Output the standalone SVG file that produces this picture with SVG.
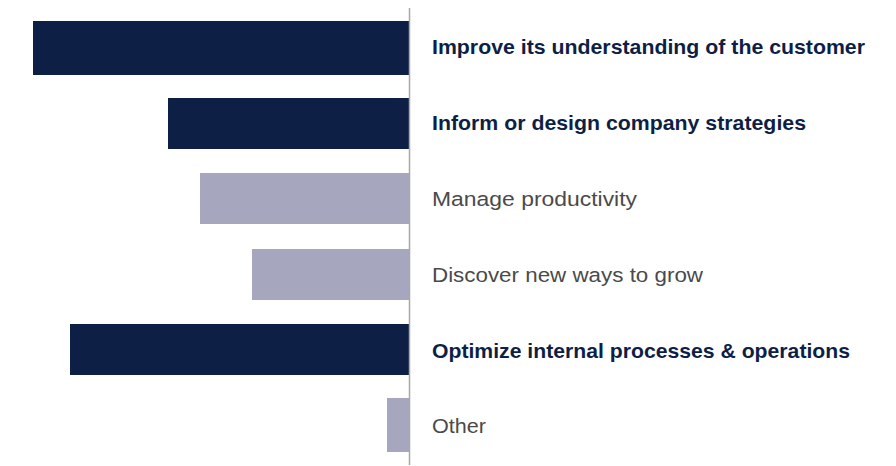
<svg xmlns="http://www.w3.org/2000/svg" width="896" height="466" viewBox="0 0 896 466">
<style>
.dark{fill:#0e1f45}
.light{fill:#a6a7bf}
.lb{font-family:"Liberation Sans",Arial,sans-serif;font-size:20.5px;font-weight:bold;fill:#0e1f45}
.lr{font-family:"Liberation Sans",Arial,sans-serif;font-size:20.5px;fill:#4a4a4a}
</style>
<rect width="896" height="466" fill="#ffffff"/>
<g id="bar1"><rect class="dark" x="33" y="21" width="377" height="54"/><text class="lb" x="432" y="54" textLength="433" lengthAdjust="spacingAndGlyphs">Improve its understanding of the customer</text></g>
<g id="bar2"><rect class="dark" x="168" y="98" width="242" height="51"/><text class="lb" x="432" y="130" textLength="374" lengthAdjust="spacingAndGlyphs">Inform or design company strategies</text></g>
<g id="bar3"><rect class="light" x="200" y="173" width="210" height="51"/><text class="lr" x="432" y="206" textLength="205" lengthAdjust="spacingAndGlyphs">Manage productivity</text></g>
<g id="bar4"><rect class="light" x="252" y="249" width="158" height="51"/><text class="lr" x="432" y="282" textLength="271" lengthAdjust="spacingAndGlyphs">Discover new ways to grow</text></g>
<g id="bar5"><rect class="dark" x="70" y="324" width="340" height="51"/><text class="lb" x="432" y="358" textLength="418" lengthAdjust="spacingAndGlyphs">Optimize internal processes &amp; operations</text></g>
<g id="bar6"><rect class="light" x="387" y="398" width="23" height="54"/><text class="lr" x="432" y="433" textLength="54" lengthAdjust="spacingAndGlyphs">Other</text></g>
<g id="connectors"><line x1="409.5" y1="8" x2="409.5" y2="465" stroke="#a8a8a8" stroke-width="1.5"/></g>
</svg>
